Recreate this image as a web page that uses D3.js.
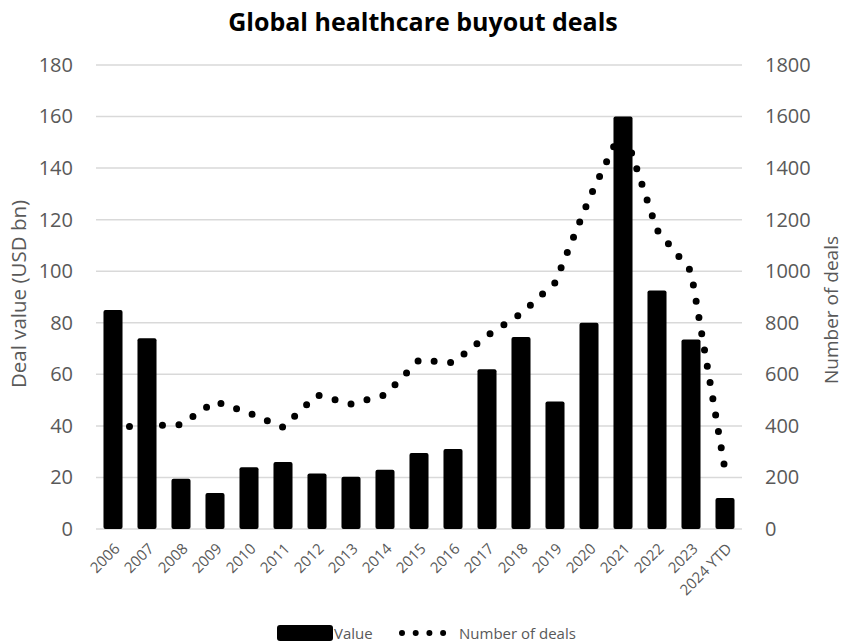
<!DOCTYPE html>
<html><head><meta charset="utf-8">
<script src="https://cdn.jsdelivr.net/npm/d3@7"></script>
<style>
body{margin:0;background:#fff}
svg{display:block}
text{font-family:"Open Sans",sans-serif}
</style>
</head><body>
<svg id="chart" width="844" height="644"></svg>
<script>
const categories = ["2006","2007","2008","2009","2010","2011","2012","2013","2014","2015","2016","2017","2018","2019","2020","2021","2022","2023","2024 YTD"];
const dealValue = [85, 74, 19.5, 14, 24, 26, 21.5, 20.3, 23, 29.5, 31, 62, 74.5, 49.5, 80, 160, 92.5, 73.5, 12];
const dealCount = [395, 400, 405, 495, 450, 395, 520, 485, 520, 655, 645, 750, 835, 955, 1280, 1560, 1160, 1000, 230];
const leftTicks = [0, 20, 40, 60, 80, 100, 120, 140, 160, 180];
const rightTicks = [0, 200, 400, 600, 800, 1000, 1200, 1400, 1600, 1800];
const titleText = "Global healthcare buyout deals";
const leftTitle = "Deal value (USD bn)";
const rightTitle = "Number of deals";
const legendLabels = ["Value", "Number of deals"];

const svg = d3.select("#chart");
const plot = {left: 96, right: 742, top: 65, bottom: 529};
const gray = "#595959";

const x = d3.scaleBand().domain(categories).range([plot.left, plot.right]).paddingInner(0.44).paddingOuter(0.22);
const yL = d3.scaleLinear().domain([0, 180]).range([plot.bottom, plot.top]);
const yR = d3.scaleLinear().domain([0, 1800]).range([plot.bottom, plot.top]);

// title
svg.append("text").attr("x", 423).attr("y", 31).attr("text-anchor", "middle")
  .attr("font-size", 25).attr("font-weight", 700).attr("fill", "#000").text(titleText);

// gridlines
svg.append("g").selectAll("line").data(leftTicks).join("line")
  .attr("x1", plot.left).attr("x2", plot.right)
  .attr("y1", d => yL(d)).attr("y2", d => yL(d))
  .attr("stroke", "#d9d9d9").attr("stroke-width", 1.5);

// left axis
const gL = svg.append("g").attr("transform", `translate(${plot.left},0)`)
  .call(d3.axisLeft(yL).tickValues(leftTicks).tickSize(0).tickPadding(23).tickFormat(d3.format("d")));
gL.select(".domain").remove();
gL.selectAll("text").attr("font-size", 20).attr("fill", gray).attr("font-family", "Open Sans");

// right axis
const gR = svg.append("g").attr("transform", `translate(${plot.right},0)`)
  .call(d3.axisRight(yR).tickValues(rightTicks).tickSize(0).tickPadding(23).tickFormat(d3.format("d")));
gR.select(".domain").remove();
gR.selectAll("text").attr("font-size", 20).attr("fill", gray).attr("font-family", "Open Sans");

// x axis labels
const gX = svg.append("g").attr("transform", `translate(0,${plot.bottom})`)
  .call(d3.axisBottom(x).tickSize(0));
gX.select(".domain").remove();
gX.selectAll("text")
  .attr("font-size", 15).attr("fill", gray).attr("font-family", "Open Sans")
  .attr("text-anchor", "end").attr("x", 0).attr("y", 0).attr("dy", "0.35em")
  .attr("transform", "translate(4,17) rotate(-45)");

// bars
svg.append("g").selectAll("rect").data(dealValue).join("rect")
  .attr("x", (d, i) => x(categories[i]))
  .attr("width", x.bandwidth())
  .attr("y", d => yL(d))
  .attr("height", d => plot.bottom - yL(d))
  .attr("rx", 2).attr("fill", "#000");

// dotted line
const line = d3.line().x((d, i) => x(categories[i]) + x.bandwidth() / 2).y(d => yR(d));
svg.append("path").datum(dealCount).attr("d", line)
  .attr("fill", "none").attr("stroke", "#000").attr("stroke-width", 7)
  .attr("stroke-linecap", "round").attr("stroke-dasharray", "0 16.5");

// axis titles
svg.append("text").attr("transform", "translate(18,294) rotate(-90)")
  .attr("text-anchor", "middle").attr("dominant-baseline", "central")
  .attr("font-size", 20.5).attr("fill", gray).text(leftTitle);
svg.append("text").attr("transform", "translate(831,310) rotate(-90)")
  .attr("text-anchor", "middle").attr("dominant-baseline", "central")
  .attr("font-size", 19).attr("fill", gray).text(rightTitle);

// legend
const lg = svg.append("g");
lg.append("rect").attr("x", 277).attr("y", 625).attr("width", 56).attr("height", 16).attr("rx", 3).attr("fill", "#000");
lg.append("text").attr("x", 334).attr("y", 638.5).attr("font-size", 15).attr("fill", gray).text(legendLabels[0]);
lg.append("line").attr("x1", 402).attr("x2", 444).attr("y1", 633).attr("y2", 633)
  .attr("stroke", "#000").attr("stroke-width", 6).attr("stroke-linecap", "round").attr("stroke-dasharray", "0 13.7");
lg.append("text").attr("x", 459).attr("y", 638.5).attr("font-size", 15).attr("fill", gray).text(legendLabels[1]);
</script>
</body></html>
